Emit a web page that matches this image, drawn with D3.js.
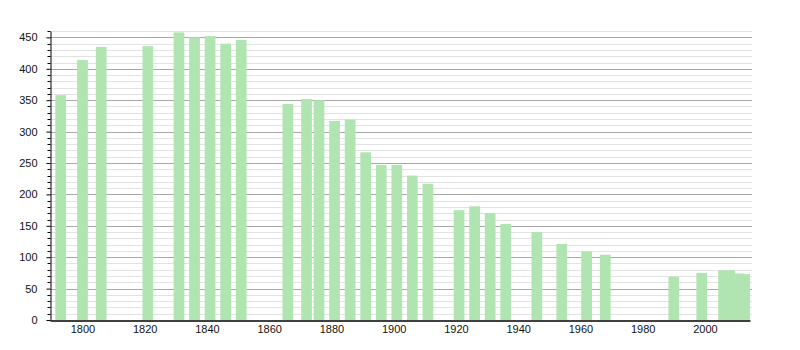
<!DOCTYPE html>
<html>
<head>
<meta charset="utf-8">
<script src="https://cdn.jsdelivr.net/npm/d3@7"></script>
<style>
  body { margin: 0; background: #fff; }
  text { font-family: "Liberation Sans", Arial, sans-serif; font-size: 11px; fill: #111; }
</style>
</head>
<body>
<svg width="800" height="350"></svg>
<script>

// census years and population
var years = [1793, 1800, 1806, 1821, 1831, 1836, 1841, 1846, 1851,
  1866, 1872, 1876, 1881, 1886, 1891, 1896, 1901, 1906, 1911,
  1921, 1926, 1931, 1936, 1946, 1954, 1962, 1968,
  1990, 1999, 2006, 2008, 2011, 2013];
var population = [358, 414, 435, 436, 458, 450, 452, 440, 446,
  344, 352, 350, 317, 319, 267, 247, 247, 230, 217,
  175, 181, 170, 153, 140, 121, 109, 104,
  69, 75, 79, 79, 74, 73];

var xTicks = [1800, 1820, 1840, 1860, 1880, 1900, 1920, 1940, 1960, 1980, 2000];
var yTicks = [0, 50, 100, 150, 200, 250, 300, 350, 400, 450];

var svg = d3.select("svg");

// scales
var x = d3.scaleLinear()
    .domain([1789.56, 2014.5])
    .range([50, 750]);
var y = d3.scaleLinear()
    .domain([0, 460])
    .range([320, 31.1]);

var minor = d3.range(10, 461, 10);

// gridlines
svg.append("g")
    .selectAll("line")
    .data(minor)
    .enter()
    .append("line")
    .attr("x1", 50)
    .attr("x2", 752)
    .attr("y1", function (d) { return Math.round(y(d)) + 0.5; })
    .attr("y2", function (d) { return Math.round(y(d)) + 0.5; })
    .attr("stroke", function (d) { return d % 50 == 0 ? "#a8a8a8" : "#e2e2e2"; })
    .attr("stroke-width", 1);

// bars
var barW = 10.7;
svg.append("g")
    .selectAll("rect")
    .data(years)
    .enter()
    .append("rect")
    .attr("x", function (d) { return x(d) - barW / 2; })
    .attr("width", function (d) { return Math.min(barW, 750 - (x(d) - barW / 2)); })
    .attr("y", function (d, i) { return y(population[i]); })
    .attr("height", function (d, i) { return y(0) - y(population[i]); })
    .attr("fill", "#b0e4b0");

// y axis: minor ticks
svg.append("g")
    .attr("transform", "translate(50.5,0)")
    .selectAll("line")
    .data(minor.filter(function (d) { return d % 50 != 0; }))
    .enter()
    .append("line")
    .attr("x1", -3)
    .attr("x2", 0)
    .attr("y1", function (d) { return Math.round(y(d)) + 0.5; })
    .attr("y2", function (d) { return Math.round(y(d)) + 0.5; })
    .attr("stroke", "#000");

var yAxis = svg.append("g")
    .attr("transform", "translate(50.5,0)")
    .call(d3.axisLeft(y).tickValues(yTicks).tickSize(4).tickPadding(9).tickSizeOuter(0));
yAxis.select(".domain").attr("stroke", "#000");
yAxis.selectAll(".tick line").attr("stroke", "#000");
yAxis.selectAll("text").style("font-size", "11px");

// x axis
var xAxis = svg.append("g")
    .attr("transform", "translate(0,320.5)")
    .call(d3.axisBottom(x).tickValues(xTicks).tickFormat(d3.format("d")).tickSize(0).tickPadding(5).tickSizeOuter(0));
xAxis.select(".domain").attr("stroke", "#000").attr("stroke-width", 1.5);
xAxis.selectAll("text").style("font-size", "11px");

</script>
</body>
</html>
